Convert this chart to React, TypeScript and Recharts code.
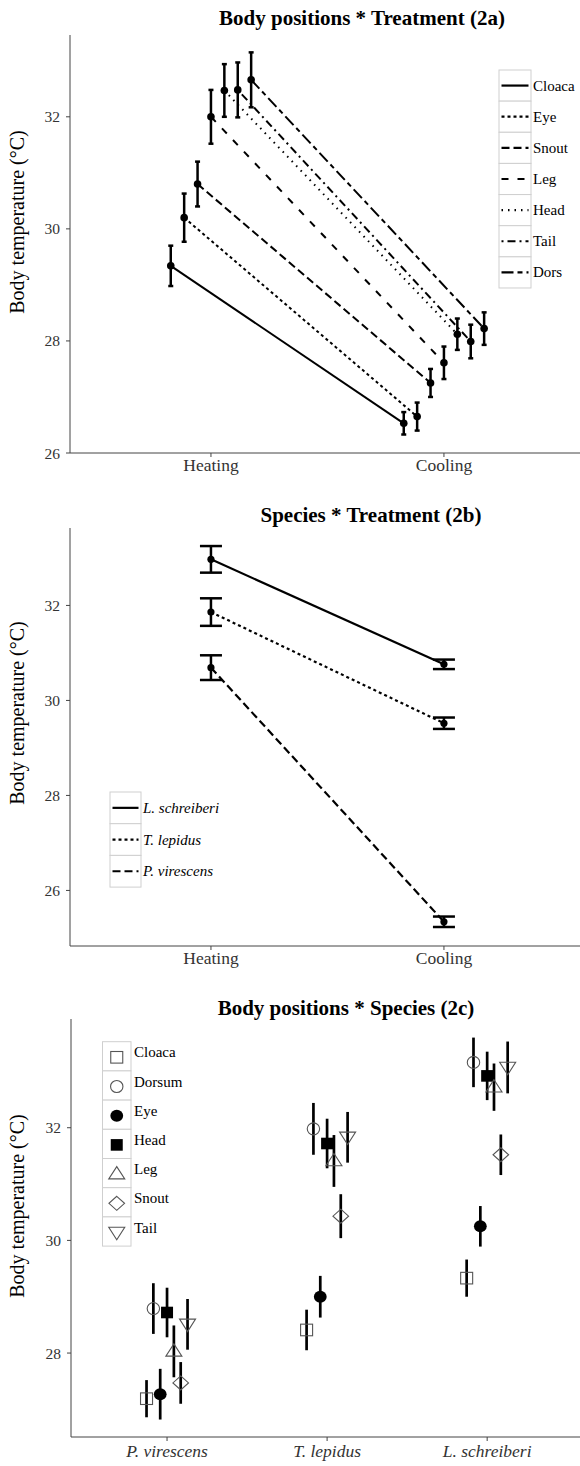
import React from 'react';
import { ComposedChart, Line, Scatter, XAxis, YAxis, ErrorBar, Customized } from 'recharts';

const FONT = '"Liberation Serif", "Times New Roman", Times, serif';

// ---------- Panel 2a : Body positions * Treatment ----------
const treatments = ['Heating', 'Cooling'];
const positionsA = ['Cloaca', 'Eye', 'Snout', 'Leg', 'Head', 'Tail', 'Dors'];
const heatingA = [29.34, 30.2, 30.8, 32.0, 32.47, 32.48, 32.66];
const heatingErrA = [0.36, 0.43, 0.4, 0.48, 0.47, 0.49, 0.49];
const coolingA = [26.53, 26.65, 27.25, 27.61, 28.12, 27.99, 28.22];
const coolingErrA = [0.2, 0.25, 0.25, 0.29, 0.28, 0.3, 0.29];
const yTicksA = [26, 28, 30, 32];

// ---------- Panel 2b : Species * Treatment ----------
const speciesB = ['L. schreiberi', 'T. lepidus', 'P. virescens'];
const heatingB = [32.97, 31.86, 30.69];
const heatingErrB = [0.28, 0.29, 0.26];
const coolingB = [30.76, 29.52, 25.34];
const coolingErrB = [0.1, 0.12, 0.11];
const yTicksB = [26, 28, 30, 32];

// ---------- Panel 2c : Body positions * Species ----------
const speciesC = ['P. virescens', 'T. lepidus', 'L. schreiberi'];
const positionsC = ['Cloaca', 'Dorsum', 'Eye', 'Head', 'Leg', 'Snout', 'Tail'];
const cloacaC = [27.19, 28.41, 29.33];
const cloacaErrC = [0.33, 0.36, 0.33];
const dorsumC = [28.79, 31.98, 33.16];
const dorsumErrC = [0.45, 0.46, 0.44];
const eyeC = [27.27, 29.0, 30.25];
const eyeErrC = [0.45, 0.37, 0.36];
const headC = [28.72, 31.72, 32.92];
const headErrC = [0.44, 0.44, 0.43];
const legC = [28.03, 31.41, 32.72];
const legErrC = [0.46, 0.46, 0.42];
const snoutC = [27.47, 30.43, 31.52];
const snoutErrC = [0.37, 0.39, 0.36];
const tailC = [28.51, 31.83, 33.07];
const tailErrC = [0.45, 0.45, 0.46];
const yTicksC = [28, 30, 32];

// ---------- styles ----------
const dashA = ['0', '3 3', '8 4', '7 9', '1.5 5', '2 4 8 4', '12 4 5 4'];
const dashB = ['0', '3 3', '8 4'];
const markersC = ['sqOpen', 'circOpen', 'circFill', 'sqFill', 'triUp', 'diamond', 'triDown'];

const valuesC = [cloacaC, dorsumC, eyeC, headC, legC, snoutC, tailC];
const errsC = [cloacaErrC, dorsumErrC, eyeErrC, headErrC, legErrC, snoutErrC, tailErrC];

const dodgeA = 0.0575;
const dodgeC = 0.0427;

const dataA = positionsA.map((_, i) => [
  { x: 0 + (i - 3) * dodgeA, y: heatingA[i], err: heatingErrA[i] },
  { x: 1 + (i - 3) * dodgeA, y: coolingA[i], err: coolingErrA[i] },
]);
const dataB = speciesB.map((_, i) => [
  { x: 0, y: heatingB[i], err: heatingErrB[i] },
  { x: 1, y: coolingB[i], err: coolingErrB[i] },
]);
const dataC = positionsC.map((_, i) =>
  speciesC.map((_, s) => ({ x: s + (i - 3) * dodgeC, y: valuesC[i][s], err: errsC[i][s] }))
);

const AX = '#444';
const tickY = { fontFamily: FONT, fontSize: 15.5, fill: '#333' };
const tickX = { fontFamily: FONT, fontSize: 17.5, fill: '#333' };

function Marker({ kind, cx, cy }: { kind: string; cx: number; cy: number }) {
  const g = '#555';
  switch (kind) {
    case 'sqOpen':
      return <rect x={cx - 6} y={cy - 5.8} width={12} height={11.6} fill="none" stroke={g} strokeWidth={1.1} />;
    case 'circOpen':
      return <ellipse cx={cx} cy={cy} rx={6.2} ry={6} fill="none" stroke={g} strokeWidth={1.1} />;
    case 'circFill':
      return <ellipse cx={cx} cy={cy} rx={6.4} ry={6} fill="#000" />;
    case 'sqFill':
      return <rect x={cx - 6} y={cy - 5.8} width={12} height={11.6} fill="#000" />;
    case 'triUp':
      return <polygon points={`${cx},${cy - 7.5} ${cx - 8},${cy + 4.8} ${cx + 8},${cy + 4.8}`} fill="none" stroke={g} strokeWidth={1.1} />;
    case 'diamond':
      return <polygon points={`${cx},${cy - 7} ${cx + 7.8},${cy} ${cx},${cy + 7} ${cx - 7.8},${cy}`} fill="none" stroke={g} strokeWidth={1.1} />;
    case 'triDown':
      return <polygon points={`${cx - 8},${cy - 5.2} ${cx + 8},${cy - 5.2} ${cx},${cy + 7.3}`} fill="none" stroke={g} strokeWidth={1.1} />;
    default:
      return null;
  }
}

function Title({ x, y, text }: { x: number; y: number; text: string }) {
  return (
    <text x={x} y={y} textAnchor="middle" style={{ fontFamily: FONT }} fontWeight="bold" fontSize={21} fill="#000">
      {text}
    </text>
  );
}
function YTitle({ x, y }: { x: number; y: number }) {
  return (
    <text transform={`translate(${x},${y}) rotate(-90)`} textAnchor="middle" style={{ fontFamily: FONT }} fontSize={20} fill="#000">
      Body temperature (°C)
    </text>
  );
}

function LineLegend({ x, y, w, h, labels, dashes, italic }: any) {
  return (
    <g>
      {labels.map((lab: string, i: number) => (
        <g key={lab}>
          <rect x={x} y={y + i * h} width={w} height={h} fill="#fff" stroke="#cfcfcf" strokeWidth={1} />
          <line x1={x + 2.5} x2={x + w - 2.5} y1={y + i * h + h / 2} y2={y + i * h + h / 2} stroke="#000" strokeWidth={2.2} strokeDasharray={dashes[i]} />
          <text x={x + w + 2} y={y + i * h + h / 2 + 5} style={{ fontFamily: FONT, fontStyle: italic ? 'italic' : 'normal' }} fontSize={15} fill="#000">
            {lab}
          </text>
        </g>
      ))}
    </g>
  );
}

function ShapeLegend({ x, y, w, h }: any) {
  return (
    <g>
      {positionsC.map((lab, i) => (
        <g key={lab}>
          <rect x={x} y={y + i * h} width={w} height={h} fill="#fff" stroke="#cfcfcf" strokeWidth={1} />
          <Marker kind={markersC[i]} cx={x + w / 2} cy={y + i * h + h / 2 + 1} />
          <text x={x + w + 3} y={y + i * h + h / 2 + 1} style={{ fontFamily: FONT }} fontSize={15} fill="#000">
            {lab}
          </text>
        </g>
      ))}
    </g>
  );
}

export default function App() {
  return (
    <div style={{ position: 'absolute', left: 0, top: 0, width: 580, height: 1466, background: '#fff' }}>
      {/* Panel A */}
      <div style={{ position: 'absolute', left: 0, top: 0 }}>
        <ComposedChart width={580} height={480} margin={{ top: 35, right: 0, bottom: 0, left: 0 }}>
          <XAxis type="number" dataKey="x" domain={[-0.605, 1.584]} allowDataOverflow ticks={[0, 1]} interval={0}
            tickFormatter={(v: number) => treatments[v]} height={27} axisLine={{ stroke: AX }} tickLine={{ stroke: AX }}
            tickSize={4} tickMargin={2} tick={tickX} />
          <YAxis type="number" dataKey="y" domain={[26, 33.46]} allowDataOverflow ticks={yTicksA} interval={0} width={70}
            axisLine={{ stroke: AX }} tickLine={{ stroke: AX }} tickSize={4} tickMargin={6} tick={tickY} />
          {positionsA.map((p, i) => (
            <Line key={p} data={dataA[i]} dataKey="y" name={p} type="linear" stroke="#000" strokeWidth={2}
              strokeDasharray={dashA[i]} dot={{ r: 3.8, fill: '#000', stroke: 'none' }} isAnimationActive={false}>
              <ErrorBar dataKey="err" direction="y" width={2.5} strokeWidth={2.5} stroke="#000" />
            </Line>
          ))}
          <Customized component={() => (
            <g>
              <Title x={362} y={25} text="Body positions * Treatment (2a)" />
              <YTitle x={24} y={222} />
              <LineLegend x={499} y={70} w={32} h={31.14} labels={positionsA} dashes={dashA} />
            </g>
          )} />
        </ComposedChart>
      </div>

      {/* Panel B */}
      <div style={{ position: 'absolute', left: 0, top: 480 }}>
        <ComposedChart width={580} height={490} margin={{ top: 48, right: 0, bottom: 0, left: 0 }}>
          <XAxis type="number" dataKey="x" domain={[-0.605, 1.584]} allowDataOverflow ticks={[0, 1]} interval={0}
            tickFormatter={(v: number) => treatments[v]} height={24} axisLine={{ stroke: AX }} tickLine={{ stroke: AX }}
            tickSize={4} tickMargin={2} tick={tickX} />
          <YAxis type="number" dataKey="y" domain={[24.83, 33.63]} allowDataOverflow ticks={yTicksB} interval={0} width={70}
            axisLine={{ stroke: AX }} tickLine={{ stroke: AX }} tickSize={4} tickMargin={6} tick={tickY} />
          {speciesB.map((s, i) => (
            <Line key={s} data={dataB[i]} dataKey="y" name={s} type="linear" stroke="#000" strokeWidth={2.2}
              strokeDasharray={dashB[i]} dot={{ r: 3.6, fill: '#000', stroke: 'none' }} isAnimationActive={false}>
              <ErrorBar dataKey="err" direction="y" width={11} strokeWidth={2.5} stroke="#000" />
            </Line>
          ))}
          <Customized component={() => (
            <g>
              <Title x={371} y={42} text="Species * Treatment (2b)" />
              <YTitle x={24} y={233} />
              <LineLegend x={110} y={312} w={31} h={31.7} labels={speciesB} dashes={dashB} italic />
            </g>
          )} />
        </ComposedChart>
      </div>

      {/* Panel C */}
      <div style={{ position: 'absolute', left: 0, top: 970 }}>
        <ComposedChart width={580} height={496} margin={{ top: 49, right: 0, bottom: 0, left: 0 }}>
          <XAxis type="number" dataKey="x" domain={[-0.6, 2.58]} allowDataOverflow ticks={[0, 1, 2]} interval={0}
            tickFormatter={(v: number) => speciesC[v]} height={29} axisLine={{ stroke: AX }} tickLine={{ stroke: AX }}
            tickSize={4} tickMargin={4} tick={{ ...tickX, fontStyle: 'italic' }} />
          <YAxis type="number" dataKey="y" domain={[26.51, 33.93]} allowDataOverflow ticks={yTicksC} interval={0} width={71}
            axisLine={{ stroke: AX }} tickLine={{ stroke: AX }} tickSize={4} tickMargin={6} tick={tickY} />
          {positionsC.map((p, i) => (
            <Scatter key={p} data={dataC[i]} name={p} isAnimationActive={false}
              shape={(props: any) => <Marker kind={markersC[i]} cx={props.cx} cy={props.cy} />}>
              <ErrorBar dataKey="err" direction="y" width={0} strokeWidth={2.7} stroke="#000" />
            </Scatter>
          ))}
          <Customized component={() => (
            <g>
              <Title x={346} y={45} text="Body positions * Species (2c)" />
              <YTitle x={24} y={236} />
              <ShapeLegend x={102.5} y={71.7} w={28.5} h={29.2} />
            </g>
          )} />
        </ComposedChart>
      </div>
    </div>
  );
}
